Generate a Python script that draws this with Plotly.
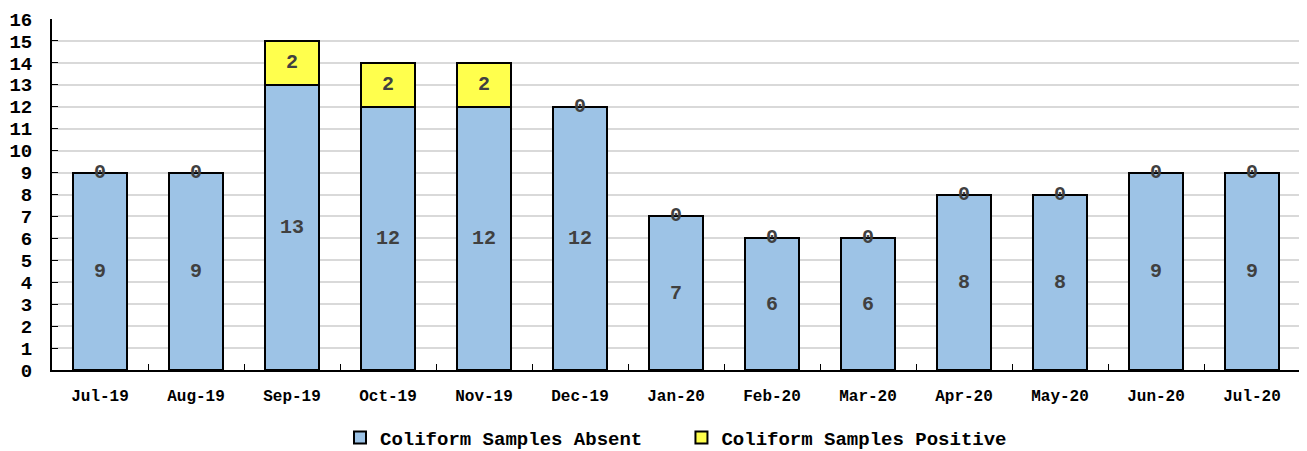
import plotly.graph_objects as go

months = ["Jul-19", "Aug-19", "Sep-19", "Oct-19", "Nov-19", "Dec-19", "Jan-20",
          "Feb-20", "Mar-20", "Apr-20", "May-20", "Jun-20", "Jul-20"]
absent = [9, 9, 13, 12, 12, 12, 7, 6, 6, 8, 8, 9, 9]
positive = [0, 0, 2, 2, 2, 0, 0, 0, 0, 0, 0, 0, 0]
series_names = ["Coliform Samples Absent", "Coliform Samples Positive"]

FONT = "Liberation Mono"
LABEL_COLOR = "#404040"
lblfont = dict(family=FONT, size=20, color=LABEL_COLOR, weight="bold")
PAD = "\u00a0" * 3

fig = go.Figure()
fig.add_trace(go.Bar(
    x=months, y=absent, name=series_names[0] + PAD,
    marker=dict(color="#9DC3E6", line=dict(color="black", width=2)),
    text=absent, textposition="inside", insidetextanchor="middle",
    textfont=lblfont, width=0.57,
))
fig.add_trace(go.Bar(
    x=months, y=positive, name=series_names[1],
    marker=dict(color="#FFFF4D", line=dict(color="black", width=2)),
    text=[str(v) if v > 0 else "" for v in positive], textposition="inside",
    insidetextanchor="middle",
    textfont=lblfont, width=0.57,
))
zero_x = [m for m, p in zip(months, positive) if p == 0]
zero_y = [a for a, p in zip(absent, positive) if p == 0]
fig.add_trace(go.Scatter(
    x=zero_x, y=zero_y, mode="text", text=["0"] * len(zero_x),
    textposition="middle center",
    textfont=lblfont,
    showlegend=False, hoverinfo="skip",
))

fig.update_layout(
    barmode="stack",
    width=1307, height=451,
    margin=dict(l=44, r=15, t=11, b=89, autoexpand=False),
    plot_bgcolor="white", paper_bgcolor="white",
    font=dict(family=FONT, color="black"),
    legend=dict(orientation="h", x=0.5, xanchor="center", y=-0.193, yanchor="middle",
                font=dict(family=FONT, size=19, color="black", weight="bold"),
                itemwidth=30, traceorder="normal", tracegroupgap=0),
    xaxis=dict(
        tickson="boundaries", ticks="inside", ticklen=6, tickcolor="black",
        showline=True, linecolor="black", linewidth=2,
        tickfont=dict(family=FONT, size=16, color="black", weight="bold"),
        range=[-0.5, 12.5], ticklabelstandoff=10, automargin=False,
    ),
    yaxis=dict(
        range=[0, 16], dtick=1, ticks="inside", ticklen=6, tickcolor="black",
        showline=True, linecolor="black", linewidth=2,
        showgrid=True, gridcolor="#D9D9D9", gridwidth=1.5,
        tickfont=dict(family=FONT, size=19, color="black", weight="bold"),
        zeroline=False, ticklabelstandoff=14, automargin=False,
    ),
    bargap=0.43,
)

fig.write_html("out.html")
